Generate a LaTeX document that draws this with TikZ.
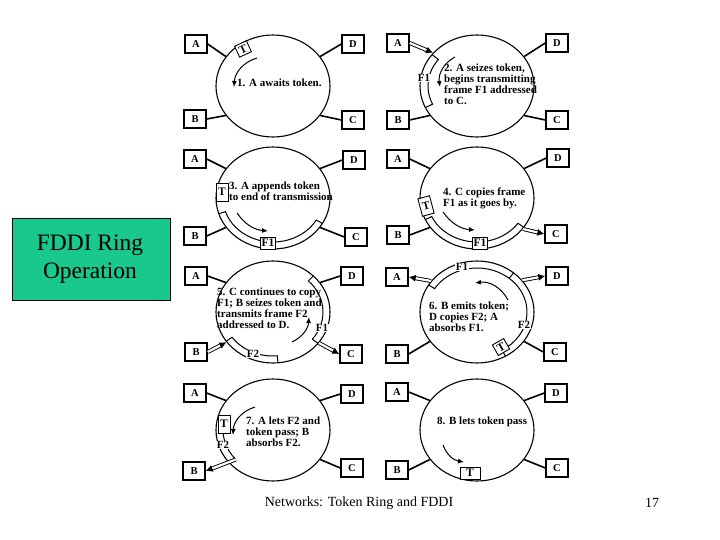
\documentclass[tikz,border=0pt]{standalone}
\usepackage{fontspec}
\setmainfont{Liberation Serif}
\usetikzlibrary{shapes.geometric,arrows.meta}
\definecolor{fddigreen}{RGB}{25,200,140}
\tikzset{
 ring/.style={ellipse, draw, line width=1.1pt, minimum width=114pt, minimum height=102pt, inner sep=0pt},
 stn/.style={draw, line width=1.4pt, minimum width=22pt, minimum height=18pt, inner sep=0pt, fill=white, font=\fontsize{10.5}{10.5}\selectfont\bfseries},
 link/.style={line width=1.6pt},
 dlink/.style={double=white, line width=0.9pt, double distance=2.2pt, -{Latex[length=7pt,width=7pt]}},
 flow/.style={line width=1pt, -{Latex[length=6pt,width=5pt]}},
 band/.style={line width=1pt},
 tag/.style={draw, fill=white, line width=0.9pt, inner sep=1.2pt, minimum width=13pt, minimum height=12pt, font=\fontsize{11.5}{11.5}\selectfont\bfseries},
 ttag/.style={tag, minimum width=12pt, minimum height=18pt},
 lbl/.style={fill=white, inner sep=0.5pt, font=\fontsize{11}{11}\selectfont\bfseries},
 caption/.style={align=left, inner sep=0pt, font=\fontsize{11}{10.8}\selectfont\bfseries},
}
\begin{document}
\begin{tikzpicture}[x=1pt,y=1pt]
\useasboundingbox (0,0) rectangle (720,-540);
\fill[white] (0,0) rectangle (720,-540);

% ---------- Title box ----------
\node[draw, line width=0.8pt, fill=fddigreen, minimum width=158pt, minimum height=82pt, inner sep=0pt] (title) at (91,-259) {};
\node[align=center, font=\fontsize{23.5}{28}\selectfont] (titletext) at (90,-259) {FDDI Ring\\ Operation};

% ---------- Panel 1 ----------
\node[ring] (r1) at (273,-86) {};
\node[stn] (a1) at (196,-44) {A};
\node[stn] (d1) at (353,-44) {D};
\node[stn] (b1) at (195,-119) {B};
\node[stn] (c1) at (353,-120) {C};
\draw[link] (a1.east) -- (r1.148);
\draw[link] (d1.west) -- (r1.32);
\draw[link] (b1.east) -- (r1.212);
\draw[link] (c1.west) -- (r1.328);
\node[tag, rotate=25] (t1) at (243,-49) {T};
\draw[flow] (257,-58) to[bend right=35] (234,-87);
\node[caption, anchor=west] (x1) at (237,-83) {1. A awaits token.};

% ---------- Panel 2 ----------
\node[ring] (r2) at (477,-86) {};
\node[stn] (a2) at (398,-43) {A};
\node[stn] (d2) at (557,-43) {D};
\node[stn] (b2) at (398,-120) {B};
\node[stn] (c2) at (557,-120) {C};
\draw[dlink] (a2.east) -- (r2.143);
\draw[link] (d2.west) -- (r2.32);
\draw[link] (b2.east) -- (r2.212);
\draw[link] (c2.west) -- (r2.328);
\begin{scope}[shift={(477,-86)}]
\draw[band] (142:57 and 51) -- (142:49 and 43) arc[start angle=142, end angle=205, x radius=49, y radius=43] -- (205:57 and 51);
\end{scope}
\node[lbl] (f2) at (424,-78) {F1};
\draw[flow] (455,-57) to[bend right=35] (440,-87);
\node[caption, anchor=north west] (x2) at (444,-64) {2. A seizes token,\\begins transmitting\\frame F1 addressed\\to C.};

% ---------- Panel 3 ----------
\node[ring] (r3) at (273,-198) {};
\node[stn] (a3) at (195,-159) {A};
\node[stn] (d3) at (354,-160) {D};
\node[stn] (b3) at (195,-236) {B};
\node[stn] (c3) at (356,-237) {C};
\draw[link] (a3.east) -- (r3.148);
\draw[link] (d3.west) -- (r3.32);
\draw[link] (b3.east) -- (r3.212);
\draw[link] (c3.west) -- (r3.328);
\begin{scope}[shift={(273,-198)}]
\draw[band] (198:57 and 51) -- (198:50 and 44) arc[start angle=198, end angle=330, x radius=50, y radius=44] -- (330:57 and 51);
\end{scope}
\node[ttag] (t3) at (222,-192) {T};
\node[tag] (f3) at (268,-243) {F1};
\draw[flow] (237,-213) to[bend right=25] (268,-231);
\node[caption, anchor=north west] (x3) at (229,-182) {3. A appends token\\to end of transmission};

% ---------- Panel 4 ----------
\node[ring] (r4) at (477,-198) {};
\node[stn] (a4) at (398,-159) {A};
\node[stn] (d4) at (558,-158) {D};
\node[stn] (b4) at (398,-235) {B};
\node[stn] (c4) at (556,-234) {C};
\draw[link] (a4.east) -- (r4.148);
\draw[link] (d4.west) -- (r4.32);
\draw[link] (b4.east) -- (r4.212);
\draw[dlink] (r4.326) -- (c4.west);
\begin{scope}[shift={(477,-198)}]
\draw[band] (205:57 and 51) -- (205:50 and 44) arc[start angle=205, end angle=325, x radius=50, y radius=44] -- (325:57 and 51);
\end{scope}
\node[ttag, rotate=15] (t4) at (426,-206) {T};
\node[tag] (f4) at (480,-243) {F1};
\draw[flow] (443,-212) to[bend right=25] (475,-230);
\node[caption, anchor=north west] (x4) at (443,-188) {4. C copies frame\\F1 as it goes by.};

% ---------- Panel 5 ----------
\node[ring] (r5) at (273,-312) {};
\node[stn] (a5) at (196,-276) {A};
\node[stn] (d5) at (352,-276) {D};
\node[stn] (b5) at (196,-352) {B};
\node[stn] (c5) at (351,-354) {C};
\draw[link] (a5.east) -- (r5.148);
\draw[link] (d5.west) -- (r5.32);
\draw[dlink] (b5.east) -- (r5.213);
\draw[dlink] (r5.326) -- (c5.west);
\begin{scope}[shift={(273,-312)}]
\draw[band] (45:57 and 51) -- (45:50 and 44) arc[start angle=45, end angle=-38, x radius=50, y radius=44] -- (-38:57 and 51);
\draw[band] (215:57 and 51) -- (215:50 and 44) arc[start angle=215, end angle=275, x radius=50, y radius=44] -- (275:57 and 51);
\end{scope}
\node[lbl] (f5a) at (322,-328) {F1};
\node[lbl] (f5b) at (253,-354) {F2};
\draw[flow] (292,-342) to[bend right=30] (309,-317);
\node[caption, anchor=north west] (x5) at (217,-288) {5. C continues to copy\\F1; B seizes token and\\transmits frame F2\\addressed to D.};

% ---------- Panel 6 ----------
\node[ring] (r6) at (477,-312) {};
\node[stn] (a6) at (397,-277) {A};
\node[stn] (d6) at (557,-276) {D};
\node[stn] (b6) at (397,-354) {B};
\node[stn] (c6) at (555,-352) {C};
\draw[dlink] (r6.146) -- (a6.east);
\draw[dlink] (r6.35) -- (d6.west);
\draw[link] (b6.east) -- (r6.212);
\draw[link] (c6.west) -- (r6.328);
\begin{scope}[shift={(477,-312)}]
\draw[band] (148:57 and 51) -- (148:50 and 44) arc[start angle=148, end angle=-60, x radius=50, y radius=44] -- (-60:57 and 51);
\draw[band] (50:57 and 51) -- (50:50 and 44);
\end{scope}
\node[lbl] (f6a) at (462,-267) {F1};
\node[lbl] (f6b) at (524,-325) {F2};
\node[tag, rotate=30] (t6) at (501,-347) {T};
\draw[flow] (508,-300) to[bend right=35] (475,-283);
\node[caption, anchor=north west] (x6) at (429,-302) {6. B emits token;\\D copies F2; A\\absorbs F1.};

% ---------- Panel 7 ----------
\node[ring] (r7) at (273,-430) {};
\node[stn] (a7) at (195,-393) {A};
\node[stn] (d7) at (352,-394) {D};
\node[stn] (b7) at (194,-471) {B};
\node[stn] (c7) at (352,-468) {C};
\draw[link] (a7.east) -- (r7.148);
\draw[link] (d7.west) -- (r7.32);
\draw[link] (c7.west) -- (r7.328);
\begin{scope}[shift={(273,-430)}]
\draw[band] (168:57 and 51) -- (168:50 and 44) arc[start angle=168, end angle=222, x radius=50, y radius=44];
\coordinate (e7) at (222:50 and 44);
\end{scope}
\draw[dlink] (e7) -- (b7.east);
\node[ttag] (t7) at (224,-424) {T};
\node[lbl] (f7) at (223,-445) {F2};
\draw[flow] (255,-407) to[bend right=35] (233,-435);
\node[caption, anchor=north west] (x7) at (246,-417) {7. A lets F2 and\\token pass; B\\absorbs F2.};

% ---------- Panel 8 ----------
\node[ring] (r8) at (477,-430) {};
\node[stn] (a8) at (397,-392) {A};
\node[stn] (d8) at (556,-393) {D};
\node[stn] (b8) at (397,-470) {B};
\node[stn] (c8) at (557,-468) {C};
\draw[link] (a8.east) -- (r8.148);
\draw[link] (d8.west) -- (r8.32);
\draw[link] (b8.east) -- (r8.212);
\draw[link] (c8.west) -- (r8.328);
\node[tag, minimum width=20pt] (t8) at (470,-473) {T};
\draw[flow] (443,-445) to[bend right=30] (464,-462);
\node[caption, anchor=west] (x8) at (437,-422) {8. B lets token pass};

% ---------- Footer ----------
\node[font=\fontsize{14}{14}\selectfont] (foot) at (359,-503) {Networks: Token Ring and FDDI};
\node[font=\fontsize{14}{14}\selectfont] (page) at (652,-503) {17};
\end{tikzpicture}
\end{document}
